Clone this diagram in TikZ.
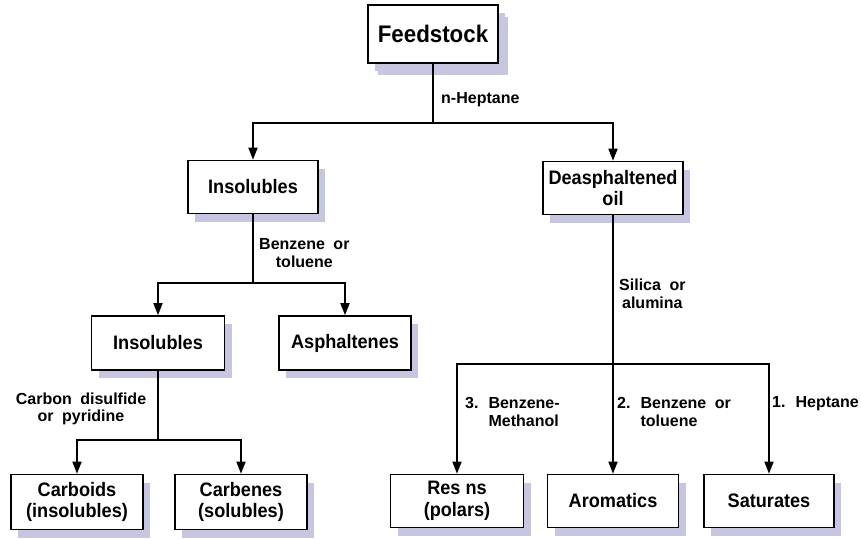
\documentclass[tikz,border=0pt]{standalone}
\usepackage{fontspec}
\setmainfont{Liberation Sans}
\newfontfamily\boxfam[FakeStretch=0.93]{Liberation Sans}
\usetikzlibrary{arrows.meta,shadows}
\definecolor{shd}{RGB}{198,198,224}
\newcommand\mylabfont{\fontsize{16}{17.5}\selectfont\bfseries\spaceskip=8.5pt plus 2pt\relax}
\newcommand\mynum[1]{#1\hspace{10pt}}
\begin{document}
\begin{tikzpicture}[x=1pt,y=-1pt,
  box/.style={draw=black, line width=1.6pt, fill=white, minimum width=#1,
    minimum height=54pt, inner sep=0pt, align=center,
    font=\boxfam\fontsize{19.5}{21.5}\selectfont\bfseries,
    drop shadow={shadow xshift=7pt, shadow yshift=-8pt, fill=shd, opacity=1}},
  box/.default=132pt,
  conn/.style={line width=1.6pt},
  arr/.style={conn, -{Triangle[length=12pt,width=9pt]}},
  lab/.style={inner sep=0pt, align=left, font=\mylabfont}
]
\useasboundingbox (0,0) rectangle (861,538);

% boxes
\node[box=130pt, minimum height=58pt, font=\boxfam\fontsize{24}{26}\selectfont\bfseries,
  drop shadow={shadow xshift=10pt, shadow yshift=-12pt, fill=shd, opacity=1}]
  (feed) at (433,34) {Feedstock};
\node[box=130pt, minimum height=53pt] (ins1) at (253,187) {Insolubles};
\node[box=140pt, minimum height=53pt] (deas) at (613,188) {Deasphaltened\\oil};
\node[box=133pt] (ins2) at (158,343) {Insolubles};
\node[box] (asph) at (345,343) {Asphaltenes};
\node[box, minimum height=55pt] (carb) at (77,502) {Carboids\\(insolubles)};
\node[box, minimum height=55pt] (cbn) at (241,502) {Carbenes\\(solubles)};
\node[box=133pt, minimum height=53pt] (res) at (457,501) {Res ns\\(polars)};
\node[box=131pt, minimum height=53pt] (arom) at (613,501) {Aromatics};
\node[box=130pt, minimum height=53pt] (sat) at (769,501) {Saturates};

% junctions
\coordinate (j1) at (433,123);
\coordinate (j2) at (253,283);
\coordinate (j3) at (158,440);
\coordinate (j4) at (613,364);

% connectors
\draw[conn] (feed.south) -- (j1);
\draw[arr] (j1) -| (ins1.north);
\draw[arr] (j1) -| (deas.north);
\draw[conn] (ins1.south) -- (j2);
\draw[arr] (j2) -| (ins2.north);
\draw[arr] (j2) -| (asph.north);
\draw[conn] (ins2.south) -- (j3);
\draw[arr] (j3) -| (carb.north);
\draw[arr] (j3) -| (cbn.north);
\draw[arr] (deas.south) -- (arom.north);
\draw[arr] (j4) -| (res.north);
\draw[arr] (j4) -| (sat.north);

% labels
\node[lab, anchor=west] (l1) at (441,100) {n-Heptane};
\node[lab, anchor=west, align=center] (l2) at (259,253) {Benzene or\\toluene};
\node[lab, anchor=west, align=center] (l3) at (619,294) {Silica or\\alumina};
\node[lab, align=center] (l4) at (81,409) {Carbon disulfide\\or pyridine};
\node[lab, anchor=west] (l5) at (465,412) {\mynum{3.}Benzene-\\\phantom{\mynum{3.}}Methanol};
\node[lab, anchor=west] (l6) at (617,412) {\mynum{2.}Benzene or\\\phantom{\mynum{2.}}toluene};
\node[lab, anchor=west] (l7) at (772,404) {\mynum{1.}Heptane};
\end{tikzpicture}
\end{document}
